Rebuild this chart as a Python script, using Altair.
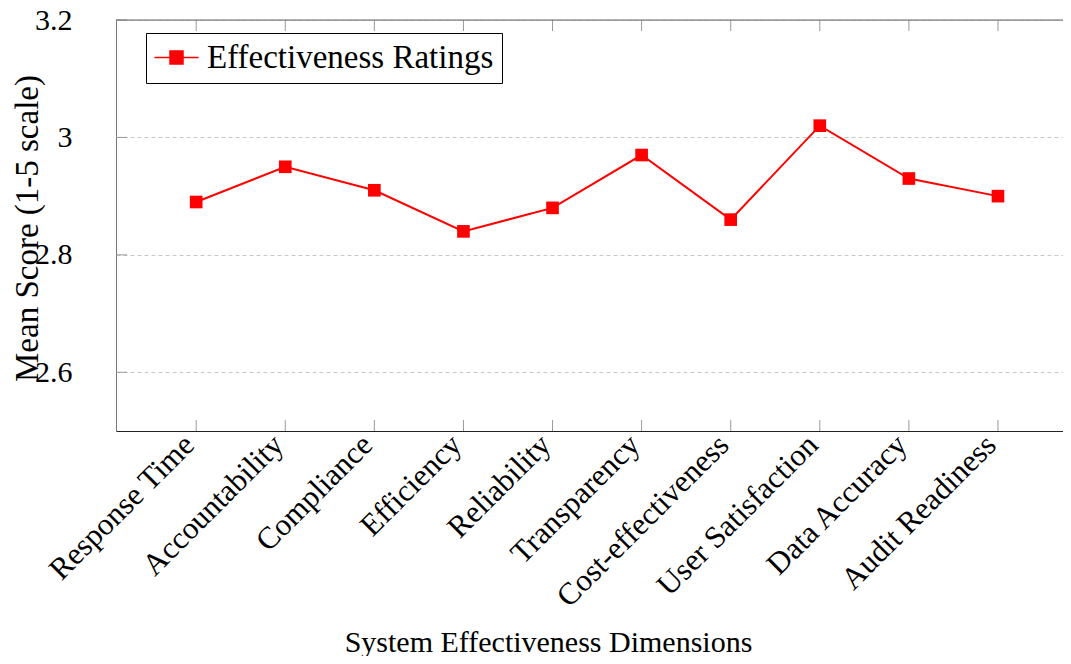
import json
import altair as alt
import pandas as pd

categories = ["Response Time", "Accountability", "Compliance", "Efficiency", "Reliability",
              "Transparency", "Cost-effectiveness", "User Satisfaction", "Data Accuracy",
              "Audit Readiness"]
scores = [2.89, 2.95, 2.91, 2.84, 2.88, 2.97, 2.86, 3.02, 2.93, 2.90]
series_name = "Effectiveness Ratings"
y_tick_values = [2.6, 2.8, 3.0, 3.2]

W, H = 947, 411
FONT = "Liberation Serif"
RED = "#ff0000"

df = pd.DataFrame({
    "idx": list(range(len(categories))),
    "category": categories,
    "score": scores,
    "series": [series_name] * len(categories),
})
ytick_df = pd.DataFrame({"v": y_tick_values})
xtick_df = pd.DataFrame({"idx": list(range(len(categories)))})

x_scale = alt.Scale(domain=[-0.9, 9.73], nice=False, zero=False)
y_scale = alt.Scale(domain=[2.5, 3.2], nice=False, zero=False)

label_expr = json.dumps(categories) + "[datum.value]"

x_enc = alt.X(
    "idx:Q", scale=x_scale,
    axis=alt.Axis(
        values=list(range(len(categories))), labelExpr=label_expr,
        labelAngle=-45, labelAlign="right", labelBaseline="middle",
        labelPadding=9, labelOffset=-7, labelLimit=0,
        labelFont=FONT, labelFontSize=31, labelColor="black",
        labelFlush=False, labelOverlap=False, ticks=False, tickSize=0,
        domainColor="#222222", domainWidth=1, grid=False,
        title="System Effectiveness Dimensions", titleFont=FONT, titleFontSize=30,
        titleFontWeight="normal", titleColor="black", titleX=432, titleY=220,
        titleAlign="center", titleBaseline="alphabetic", titleLimit=0,
    ),
)
y_enc = alt.Y(
    "score:Q", scale=y_scale,
    axis=alt.Axis(
        values=y_tick_values, format=".1~f", labelPadding=44, ticks=False, tickSize=0,
        labelFont=FONT, labelFontSize=30, labelColor="black", labelFlush=False,
        labelBaseline="middle", labelLimit=0,
        domainColor="#777777", domainWidth=1,
        grid=True, gridDash=[4, 3], gridColor="#c8c8c8", gridWidth=1,
        title="Mean Score (1-5 scale)", titleFont=FONT, titleFontSize=33,
        titleFontWeight="normal", titleColor="black", titleAngle=-90,
        titleX=-79, titleY=208, titleAlign="center", titleBaseline="alphabetic",
        titleLimit=0,
    ),
)

base = alt.Chart(df)

line = base.mark_line(color=RED, strokeWidth=2).encode(x=x_enc, y=y_enc)

points = base.mark_point(shape="square", filled=True, size=160, opacity=1,
                         strokeWidth=1).encode(
    x=alt.X("idx:Q", scale=x_scale),
    y=alt.Y("score:Q", scale=y_scale),
    color=alt.Color(
        "series:N", scale=alt.Scale(range=[RED]),
        legend=alt.Legend(
            title=None, orient="none", legendX=30, legendY=13, padding=8,
            strokeColor="black", fillColor="white", cornerRadius=0,
            symbolType="M-3.4,0H3.4M-1,-1H1V1H-1Z", symbolSize=169,
            symbolStrokeWidth=1.5, symbolStrokeColor=RED, symbolFillColor=RED,
            symbolOpacity=1, symbolOffset=6, labelOffset=14, labelLimit=0,
            labelFont=FONT, labelFontSize=33, labelColor="black",
        ),
    ),
)

bottom_ticks = alt.Chart(xtick_df).mark_rule(color="#999999", strokeWidth=1).encode(
    x=alt.X("idx:Q", scale=x_scale), y=alt.value(H - 11), y2=alt.value(H))
top_ticks = alt.Chart(xtick_df).mark_rule(color="#999999", strokeWidth=1).encode(
    x=alt.X("idx:Q", scale=x_scale), y=alt.value(0), y2=alt.value(11))
left_ticks = alt.Chart(ytick_df).mark_rule(color="#999999", strokeWidth=1).encode(
    y=alt.Y("v:Q", scale=y_scale), x=alt.value(0), x2=alt.value(11))
top_border = alt.Chart(ytick_df.head(1)).mark_rule(color="#666666", strokeWidth=1).encode(
    x=alt.value(0), x2=alt.value(W), y=alt.value(0))

chart = alt.layer(
    line, bottom_ticks, top_ticks, left_ticks, top_border, points
).properties(
    width=W, height=H,
    autosize=alt.AutoSizeParams(type="none"),
    padding={"left": 108, "top": 12, "right": 0, "bottom": 225},
).configure_view(stroke=None).configure(background="white")

chart.save("out.html", embed_options={"renderer": "svg", "actions": False})
